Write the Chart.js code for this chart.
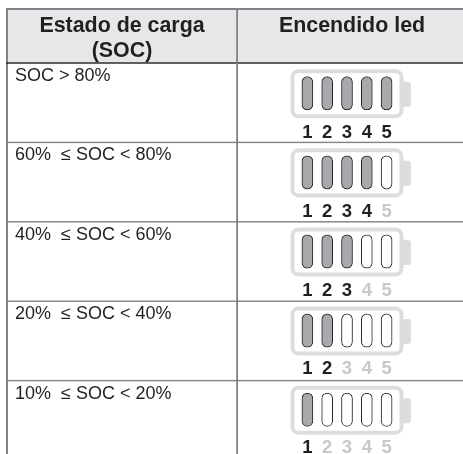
<!DOCTYPE html>
<html>
<head>
<meta charset="utf-8">
<style>
  html, body { margin: 0; padding: 0; background: #fff; }
  canvas { display: block; }
</style>
<script src="https://cdn.jsdelivr.net/npm/chart.js@4/dist/chart.umd.min.js"></script>
</head>
<body>
<canvas id="chart" width="463" height="454"></canvas>
<script>
var headers = ["Estado de carga", "(SOC)", "Encendido led"];
var rowLabels = ["SOC > 80%", "60%  \u2264 SOC < 80%", "40%  \u2264 SOC < 60%", "20%  \u2264 SOC < 40%", "10%  \u2264 SOC < 20%"];
var ledLabels = ["1", "2", "3", "4", "5"];
var ledsOn = [5, 4, 3, 2, 1];

var FONT = '"Liberation Sans", Arial, sans-serif';
var DARK = "#231f20";
var LINE = "#808285";
var SHELL = "#dcddde";
var LIT = "#a7a9ac";
var FADED = "#c6c8ca";
var DRIFT = 0.996; // batteries sit a little tighter than the row lines

// each row is one dataset, every led a floating bar inside the row
var datasets = rowLabels.map(function(label, r) {
  return {
    label: label,
    data: ledLabels.map(function() { return [r * DRIFT + 0.172, r * DRIFT + 0.592]; }),
    backgroundColor: ledLabels.map(function(l, i) { return i < ledsOn[r] ? LIT : "#ffffff"; }),
    borderColor: DARK,
    borderWidth: 1,
    borderSkipped: false,
    borderRadius: 6,
    barThickness: 11,
    grouped: false
  };
});

function roundBox(ctx, x, y, w, h, rad) {
  ctx.beginPath();
  ctx.roundRect(x, y, w, h, rad);
}

var tablePlugin = {
  id: "table",
  beforeDatasetsDraw: function(chart) {
    var ctx = chart.ctx, xs = chart.scales.x, ys = chart.scales.y;
    var W = chart.width, H = chart.height;
    var head = ys.getPixelForValue(0);
    ctx.save();

    // header band
    ctx.fillStyle = "#e6e7e8";
    ctx.fillRect(7, 9, W - 7, head - 9);

    // table lines
    ctx.fillStyle = LINE;
    ctx.fillRect(6, 8, W - 6, 2);
    ctx.fillRect(6, 8, 2, H - 8);
    rowLabels.forEach(function(l, r) {
      if (r > 0) ctx.fillRect(6, ys.getPixelForValue(r) - 0.7, W - 6, 1.4);
    });
    ctx.fillStyle = DARK;
    ctx.fillRect(6, head - 0.7, W - 6, 1.4);
    ctx.fillStyle = LINE;
    ctx.fillRect(236.2, 8, 1.8, H - 8);

    // header text
    ctx.fillStyle = DARK;
    ctx.textAlign = "center";
    ctx.textBaseline = "alphabetic";
    ctx.font = "bold 21.4px " + FONT;
    ctx.fillText(headers[0], 122, 32);
    ctx.fillText(headers[1], 122, 57);
    ctx.fillText(headers[2], 352, 32);

    // row labels and batteries
    rowLabels.forEach(function(label, r) {
      var top = ys.getPixelForValue(r);
      ctx.fillStyle = DARK;
      ctx.textAlign = "left";
      ctx.font = "18px " + FONT;
      ctx.fillText(label, 15, top + 18);

      var cx = (xs.getPixelForValue(0) + xs.getPixelForValue(4)) / 2;
      var sy = ys.getPixelForValue(r * DRIFT + 0.079);
      var ey = ys.getPixelForValue(r * DRIFT + 0.697);
      ctx.fillStyle = SHELL;
      roundBox(ctx, cx + 56, sy + 12.5, 8, 25, [0, 3, 3, 0]);
      ctx.fill();
      ctx.strokeStyle = SHELL;
      ctx.lineWidth = 4;
      roundBox(ctx, cx - 54.5, sy + 2, 109, ey - sy - 4, 6);
      ctx.stroke();

      ctx.font = "bold 18.5px " + FONT;
      ctx.textAlign = "center";
      ledLabels.forEach(function(led, i) {
        ctx.fillStyle = i < ledsOn[r] ? DARK : FADED;
        ctx.fillText(led, xs.getPixelForValue(i), top + 75 - 0.6 * r);
      });
    });
    ctx.restore();
  }
};

new Chart(document.getElementById("chart"), {
  type: "bar",
  data: { labels: ledLabels, datasets: datasets },
  plugins: [tablePlugin],
  options: {
    responsive: false,
    animation: false,
    events: [],
    layout: { padding: { left: 297.5, right: 66.5, top: 63, bottom: 0 } },
    plugins: { legend: { display: false }, title: { display: false }, tooltip: { enabled: false } },
    scales: {
      x: { display: false, offset: true },
      y: { display: false, reverse: true, min: 0, max: 4.924 }
    }
  }
});
</script>
</body>
</html>
